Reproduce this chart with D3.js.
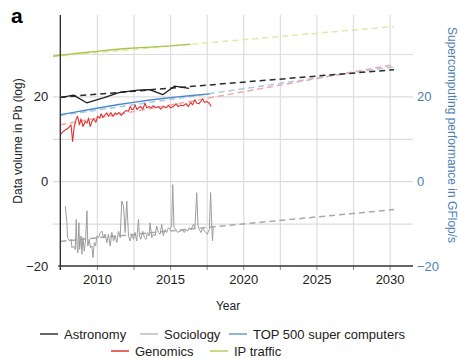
<!DOCTYPE html>
<html>
<head>
<meta charset="utf-8">
<script src="https://cdn.jsdelivr.net/npm/d3@7"></script>
<style>
  body { margin: 0; background: #fff; }
  svg { font-family: "Liberation Sans", Arial, Helvetica, sans-serif; }
</style>
</head>
<body>
<svg width="460" height="359"></svg>
<script>
// ---- data ----
const astroYears = [2007.5, 2008.4, 2009.3, 2010.5, 2011.5, 2012.8, 2013.6, 2014.5, 2015.3, 2016.3];
const astroValues = [19.7, 20.3, 18.5, 19.7, 20.9, 21.5, 21.6, 20.4, 22.4, 21.9];

const genomicsYears = [2007.50,2007.72,2008.06,2008.23,2008.34,2008.45,2008.59,2008.68,2008.81,2008.91,
  2009.05,2009.20,2009.32,2009.43,2009.54,2009.66,2009.77,2009.93,2010.04,2010.18,2010.29,2010.41,2010.52,
  2010.68,2010.79,2010.95,2011.09,2011.25,2011.36,2011.52,2011.66,2011.81,2012.00,2012.16,2012.27,2012.39,
  2012.50,2012.61,2012.73,2012.84,2013.00,2013.14,2013.29,2013.41,2013.57,2013.70,2013.86,2014.04,2014.20,
  2014.36,2014.54,2014.72,2014.88,2015.04,2015.22,2015.41,2015.56,2015.73,2015.90,2016.09,2016.25,2016.41,
  2016.54,2016.70,2016.82,2016.98,2017.09,2017.23,2017.34,2017.50,2017.68,2017.81];
const genomicsValues = [11.0,11.8,12.6,13.3,9.4,12.9,14.7,15.3,13.3,14.7,
  12.9,14.1,13.7,14.9,12.9,14.1,14.7,13.9,15.3,14.9,15.9,15.1,15.5,
  16.1,15.3,16.2,15.3,16.1,15.7,16.2,15.5,16.1,16.7,16.5,17.6,16.9,
  17.0,18.0,16.9,17.3,17.6,17.0,18.4,17.3,17.6,17.3,17.8,17.3,17.6,
  17.0,17.6,17.3,17.9,17.3,17.6,18.3,17.6,17.9,17.8,18.3,17.6,18.6,
  18.0,19.2,18.4,18.3,18.8,19.4,18.6,18.8,18.4,17.6];

const socYears = [2007.84,2007.95,2007.99,2008.14,2008.23,2008.30,2008.41,2008.52,2008.59,2008.64,
  2008.70,2008.77,2008.82,2008.91,2008.98,2009.04,2009.14,2009.23,2009.32,2009.38,
  2009.47,2009.57,2009.66,2009.73,2009.82,2009.91,2010.00,2010.11,2010.23,2010.34,
  2010.45,2010.57,2010.68,2010.79,2010.91,2011.02,2011.14,2011.25,2011.36,2011.48,
  2011.59,2011.70,2011.82,2011.93,2012.04,2012.16,2012.27,2012.38,2012.50,2012.61,
  2012.72,2012.84,2012.91,2013.00,2013.13,2013.25,2013.36,2013.45,2013.57,2013.63,
  2013.75,2013.86,2013.97,2014.09,2014.20,2014.32,2014.43,2014.54,2014.66,2014.77,
  2014.88,2015.00,2015.11,2015.18,2015.27,2015.41,2015.52,2015.63,2015.75,2015.86,
  2015.97,2016.09,2016.20,2016.31,2016.43,2016.59,2016.70,2016.82,2016.91,2017.00,
  2017.11,2017.22,2017.34,2017.45,2017.54,2017.68,2017.77,2017.84,2017.90,2017.95];
const socValues = [-5.9,-9.8,-13.3,-14.1,-13.7,-15.7,-15.3,-16.1,-9.0,-15.3,
  -16.9,-9.8,-16.1,-12.9,-17.2,-13.3,-16.5,-13.7,-7.0,-15.3,
  -13.7,-15.7,-15.3,-18.0,-14.5,-15.3,-12.9,-13.3,-12.1,-11.8,
  -13.3,-12.5,-14.5,-12.5,-15.3,-12.1,-14.1,-12.9,-14.5,-11.8,
  -13.3,-4.7,-5.9,-12.1,-4.7,-12.9,-14.1,-12.5,-13.7,-12.1,
  -14.1,-9.0,-12.9,-13.7,-11.8,-13.3,-13.7,-12.1,-12.9,-9.8,
  -13.3,-12.5,-12.9,-10.6,-12.1,-12.5,-10.2,-12.9,-11.4,-12.1,
  -11.0,-11.4,-10.6,-0.8,-11.0,-11.4,-12.1,-11.8,-11.8,-11.4,
  -12.1,-11.4,-11.8,-11.0,-11.4,-10.2,-11.0,-2.7,-10.6,-11.4,
  -12.1,-11.0,-11.8,-12.1,-12.5,-11.4,-2.7,-9.8,-14.1,-11.0];

const top500Years = [2007.5, 2008.5, 2009.5, 2010.5, 2011.5, 2012.5, 2013.5, 2014.5, 2015.5, 2016.5, 2017.7];
const top500Values = [15.7, 16.3, 16.9, 17.5, 18.1, 18.6, 19.1, 19.5, 19.9, 20.2, 20.6];

const ipYears = [2007, 2008, 2009, 2010, 2011, 2012, 2013, 2014, 2015, 2016, 2016.4];
const ipValues = [29.5, 29.9, 30.3, 30.6, 31.0, 31.3, 31.5, 31.7, 31.9, 32.2, 32.3];

// projections (dashed)
const trendYears = [2007.5, 2030.3];
const ipTrendYears = [2007, 2030.3];
const astroTrend = [19.8, 26.3];
const genomicsTrend = [13.3, 27.5];
const socTrend = [-14.2, -6.7];
const top500Trend = [15.5, 27.0];
const ipTrend = [29.4, 36.5];

const gridYears = [2010, 2012.5, 2015, 2017.5, 2020, 2022.5, 2025, 2027.5, 2030];
const labelYears = [2010, 2015, 2020, 2025, 2030];
const gridValues = [-10, 0, 10, 20, 30];
const labelValues = [-20, 0, 20];

const legendNames = ['Astronomy', 'Sociology', 'TOP 500 super computers', 'Genomics', 'IP traffic'];

// ---- layout ----
const svg = d3.select('svg');
const plotLeft = 53, plotRight = 413, plotTop = 15, plotBottom = 266;

const x = d3.scaleLinear().domain([2007, 2031.6]).range([plotLeft, plotRight]);
const y = d3.scaleLinear().domain([-20, 39.2]).range([plotBottom, plotTop]);

// grid
const xGrid = svg.append('g')
  .attr('transform', `translate(0,${plotBottom})`)
  .call(d3.axisBottom(x).tickValues(gridYears).tickSize(-(plotBottom - plotTop)).tickFormat(''));
xGrid.select('.domain').remove();
xGrid.selectAll('.tick line').attr('stroke', '#dcdcdc').attr('stroke-width', 1.2);

const yGrid = svg.append('g')
  .attr('transform', `translate(${plotLeft},0)`)
  .call(d3.axisLeft(y).tickValues(gridValues).tickSize(-(plotRight - plotLeft)).tickFormat(''));
yGrid.select('.domain').remove();
yGrid.selectAll('.tick line').attr('stroke', '#dcdcdc').attr('stroke-width', 1.2);

// small ticks under the x axis
const xTicks = svg.append('g')
  .attr('transform', `translate(0,${plotBottom})`)
  .call(d3.axisBottom(x).tickValues(gridYears).tickSize(4).tickFormat(''));
xTicks.select('.domain').remove();
xTicks.selectAll('.tick line').attr('stroke', '#888');

// ---- lines ----
const line = d3.line().x(d => x(d[0])).y(d => y(d[1]));

const trends = [
  { years: trendYears, vals: socTrend, color: '#a8a8a8' },
  { years: ipTrendYears, vals: ipTrend, color: '#dfe9a6' },
  { years: trendYears, vals: top500Trend, color: '#a9c9e8' },
  { years: trendYears, vals: genomicsTrend, color: '#f1aaa6' },
  { years: trendYears, vals: astroTrend, color: '#2b2b2b' }
];

const series = [
  { years: socYears, vals: socValues, color: '#9d9d9d', w: 1 },
  { years: ipYears, vals: ipValues, color: '#a6c64a', w: 1.3 },
  { years: top500Years, vals: top500Values, color: '#4a8bcb', w: 1.4 },
  { years: genomicsYears, vals: genomicsValues, color: '#e0342e', w: 1.1 },
  { years: astroYears, vals: astroValues, color: '#1e1e1e', w: 1.3 }
];

svg.append('g').selectAll('path')
  .data(trends)
  .enter().append('path')
  .attr('d', d => line(d3.zip(d.years, d.vals)))
  .attr('fill', 'none')
  .attr('stroke', d => d.color)
  .attr('stroke-width', 1.5)
  .attr('stroke-dasharray', '6,4');

svg.append('g').selectAll('path')
  .data(series)
  .enter().append('path')
  .attr('d', d => line(d3.zip(d.years, d.vals)))
  .attr('fill', 'none')
  .attr('stroke', d => d.color)
  .attr('stroke-width', d => d.w)
  .attr('stroke-linejoin', 'round');

// ---- axes ----
const axisX = x(2007.5);
svg.append('line')
  .attr('x1', axisX).attr('x2', axisX)
  .attr('y1', plotTop).attr('y2', plotBottom + 4)
  .attr('stroke', '#333').attr('stroke-width', 1.4);
svg.append('line')
  .attr('x1', axisX - 2).attr('x2', plotRight)
  .attr('y1', plotBottom).attr('y2', plotBottom)
  .attr('stroke', '#333').attr('stroke-width', 1.6);

const minus = d => d < 0 ? '\u2212' + Math.abs(d) : d;

const xLab = svg.append('g')
  .attr('transform', `translate(0,${plotBottom})`)
  .call(d3.axisBottom(x).tickValues(labelYears).tickSize(0).tickPadding(9).tickFormat(d3.format('d')));
xLab.select('.domain').remove();
xLab.selectAll('text').attr('font-size', 13).attr('fill', '#222').attr('font-family', null);

const yLab = svg.append('g')
  .attr('transform', `translate(${axisX},0)`)
  .call(d3.axisLeft(y).tickValues(labelValues).tickSize(0).tickPadding(12).tickFormat(minus));
yLab.select('.domain').remove();
yLab.selectAll('text').attr('font-size', 13).attr('fill', '#222').attr('font-family', null);

const yRight = svg.append('g')
  .attr('transform', `translate(${plotRight},0)`)
  .call(d3.axisRight(y).tickValues(labelValues).tickSize(0).tickPadding(4).tickFormat(minus));
yRight.select('.domain').remove();
yRight.selectAll('text').attr('font-size', 13).attr('fill', '#4d7fb3').attr('font-family', null);

// titles
svg.append('text')
  .attr('x', 11).attr('y', 23)
  .attr('font-size', 21).attr('font-weight', 'bold')
  .text('a');

svg.append('text')
  .attr('transform', 'translate(22,141) rotate(-90)')
  .attr('text-anchor', 'middle')
  .attr('font-size', 12)
  .attr('fill', '#222')
  .text('Data volume in Pb (log)');

svg.append('text')
  .attr('transform', 'translate(448,135) rotate(90)')
  .attr('text-anchor', 'middle')
  .attr('font-size', 12)
  .attr('fill', '#4d7fb3')
  .text('Supercomputing performance in GFlop/s');

svg.append('text')
  .attr('x', 228).attr('y', 310)
  .attr('text-anchor', 'middle')
  .attr('font-size', 12)
  .attr('fill', '#222')
  .text('Year');

// ---- legend ----
const legendItems = [
  { name: legendNames[0], color: '#333', x: 40, y: 334 },
  { name: legendNames[1], color: '#bdbdbd', x: 140, y: 334 },
  { name: legendNames[2], color: '#6a9dd0', x: 229, y: 334 },
  { name: legendNames[3], color: '#e0342e', x: 111, y: 351 },
  { name: legendNames[4], color: '#b6cf5c', x: 210, y: 351 }
];
const lg = svg.append('g').selectAll('g')
  .data(legendItems)
  .enter().append('g')
  .attr('transform', d => `translate(${d.x},${d.y})`);
lg.append('line')
  .attr('x1', 0).attr('x2', 18)
  .attr('stroke', d => d.color).attr('stroke-width', 1.5);
lg.append('text')
  .attr('x', 24).attr('dy', '0.35em')
  .attr('font-size', 13).attr('fill', '#222')
  .text(d => d.name);
</script>
</body>
</html>
